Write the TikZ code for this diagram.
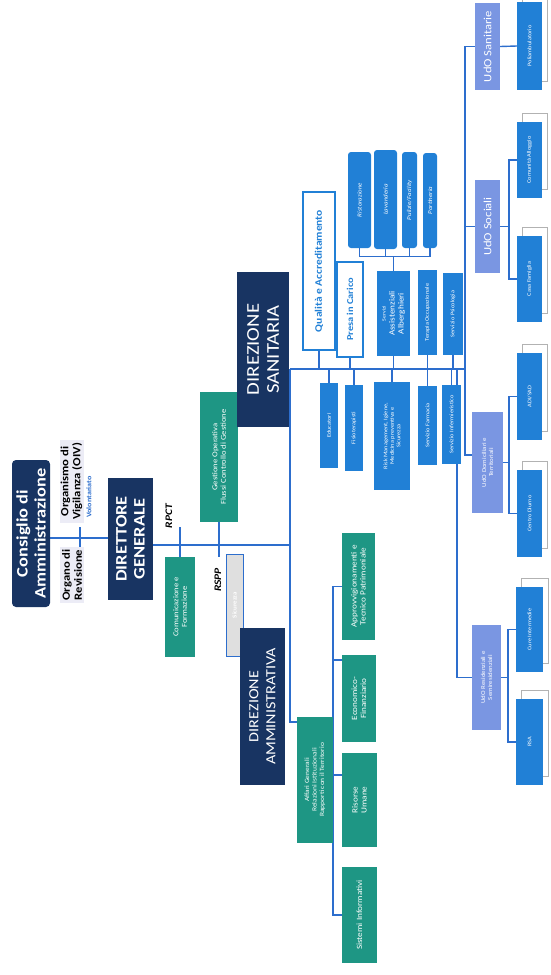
\documentclass[tikz,border=0pt]{standalone}
\usepackage{fontspec}
\setmainfont[FakeStretch=1.15]{Carlito}
\usetikzlibrary{backgrounds}
\definecolor{dirblue}{RGB}{24,52,98}
\definecolor{teal1}{RGB}{30,150,132}
\definecolor{azure}{RGB}{33,128,214}
\definecolor{lav}{RGB}{122,150,226}
\definecolor{wirec}{RGB}{45,110,205}
\definecolor{pale}{RGB}{236,236,246}
\begin{document}
\begin{tikzpicture}[x=1pt,y=1pt]
        \tikzstyle{dir}=[rotate=90,fill=dirblue,text=white,align=center,inner sep=1pt]
        \tikzstyle{staff}=[rotate=90,fill=teal1,text=white,align=center,inner sep=1pt,font=\fontsize{7.5}{8.5}\selectfont]
        \tikzstyle{unit}=[rotate=90,fill=azure,text=white,align=center,inner sep=1pt,font=\fontsize{5.5}{6.5}\selectfont]
        \tikzstyle{udo}=[rotate=90,fill=lav,text=white,align=center,inner sep=1pt]
        \tikzstyle{ringbox}=[rotate=90,draw=azure,line width=2.5pt,fill=white,text=azure,align=center,inner sep=1pt]
        \tikzstyle{organ}=[rotate=90,fill=pale,align=center,inner sep=1pt,font=\bfseries\fontsize{11}{12}\selectfont]
        \tikzstyle{lbl}=[rotate=90,font=\bfseries\itshape\fontsize{10}{11}\selectfont]
        \tikzstyle{wire}=[draw=wirec,line width=1.4pt]
        \tikzstyle{ghost}=[draw=gray!60,fill=white,line width=0.6pt]

        \useasboundingbox (0,0) rectangle (550,-975);

        % vertice
        \node [dir,rounded corners=4pt,minimum width=147pt,minimum height=38pt,font=\bfseries\fontsize{16}{18}\selectfont] (cda) at (31,-533.5) {Consiglio di\\Amministrazione};
        \node [organ,minimum width=83pt,minimum height=24pt] (oiv) at (71.5,-481.5) {Organismo di\\Vigilanza (OIV)};
        \node [organ,minimum width=56pt,minimum height=24pt] (rev) at (72,-575) {Organo di\\Revisione};
        \node [rotate=90,text=wirec,font=\bfseries\fontsize{7}{8}\selectfont] (vol) at (89,-497) {Volontariato};
        \node [dir,minimum width=122pt,minimum height=45pt,font=\bfseries\fontsize{16}{18}\selectfont] (dg) at (130.5,-539) {DIRETTORE\\GENERALE};

        % staff
        \node [staff,minimum width=100pt,minimum height=30pt] (comm) at (180,-607) {Comunicazione e\\Formazione};
        \node [staff,minimum width=130pt,minimum height=38pt] (gest) at (219,-457) {Gestione Operativa\\Flussi Controllo di Gestione};
        \node [rotate=90,fill=gray!25,draw=wirec,line width=0.8pt,text=white,minimum width=102pt,minimum height=17pt,font=\bfseries\fontsize{6}{7}\selectfont] (sic) at (234.5,-605) {Sicurezza};
        \node [lbl] (rpct) at (169,-516) {RPCT};
        \node [lbl] (rspp) at (218,-580) {RSPP};

        % direzioni
        \node [dir,minimum width=155pt,minimum height=52pt,font=\fontsize{18}{20}\selectfont] (ds) at (263,-349.5) {DIREZIONE\\SANITARIA};
        \node [dir,minimum width=157pt,minimum height=45pt,font=\fontsize{14}{17}\selectfont] (da) at (262.5,-706.5) {DIREZIONE\\AMMINISTRATIVA};

        % area sanitaria
        \node [ringbox,minimum width=158pt,minimum height=32pt,font=\bfseries\fontsize{10}{11}\selectfont] (qual) at (319,-271) {Qualità e Accreditamento};
        \node [ringbox,minimum width=95pt,minimum height=26pt,font=\bfseries\fontsize{9}{10}\selectfont] (presa) at (350,-309.5) {Presa in Carico};
        \node [unit,minimum width=85pt,minimum height=33pt,font=\fontsize{8}{9}\selectfont] (saa) at (393.5,-313.5) {{\tiny Servizi}\\Assistenziali\\Alberghieri};
        \node [unit,minimum width=85pt,minimum height=19pt] (terap) at (427.5,-312.5) {Terapia Occupazionale};
        \node [unit,minimum width=82pt,minimum height=20pt] (psico) at (453,-314) {Servizio Psicologia};
        \node [unit,rounded corners=3pt,minimum width=96pt,minimum height=23pt,font=\itshape\fontsize{6}{7}\selectfont] (rist) at (359.5,-200) {Ristorazione};
        \node [unit,rounded corners=3pt,minimum width=99pt,minimum height=23pt,font=\itshape\fontsize{6}{7}\selectfont] (lav) at (385.5,-199.5) {Lavanderia};
        \node [unit,rounded corners=3pt,minimum width=96pt,minimum height=15pt,font=\itshape\fontsize{6}{7}\selectfont] (pul) at (409.5,-200) {Pulizie/Facility};
        \node [unit,rounded corners=3pt,minimum width=95pt,minimum height=14pt,font=\itshape\fontsize{6}{7}\selectfont] (port) at (430,-200.5) {Portineria};
        \node [unit,minimum width=85pt,minimum height=18pt] (edu) at (329,-425.5) {Educatori};
        \node [unit,minimum width=86pt,minimum height=18pt] (fisio) at (354,-428) {Fisioterapisti};
        \node [unit,minimum width=108pt,minimum height=36pt] (risk) at (392,-436) {Risk Management, Igiene,\\Medicina preventiva e\\Sicurezza};
        \node [unit,minimum width=79pt,minimum height=19pt] (farm) at (427.5,-425.5) {Servizio Farmacia};
        \node [unit,minimum width=79pt,minimum height=19pt] (inf) at (451.5,-424.5) {Servizio Infermieristico};

        % unita' di offerta
        \node [udo,minimum width=87pt,minimum height=25pt,font=\fontsize{11}{12}\selectfont] (udosan) at (487.5,-46.5) {UdO Sanitarie};
        \node [udo,minimum width=93pt,minimum height=25pt,font=\fontsize{11}{12}\selectfont] (udosoc) at (487.5,-226.5) {UdO Sociali};
        \node [udo,minimum width=101pt,minimum height=31pt,font=\fontsize{6}{7}\selectfont] (udodom) at (487.5,-462.5) {UdO Domiciliari e\\Territoriali};
        \node [udo,minimum width=105pt,minimum height=29pt,font=\fontsize{6}{7}\selectfont] (udores) at (486.5,-677.5) {UdO Residenziali e\\Semiresidenziali};
        \node [unit,minimum width=88pt,minimum height=25pt] (san1) at (529.5,-46) {Poliambulatorio};
        \node [unit,minimum width=76pt,minimum height=25pt] (soc1) at (529.5,-160) {Comunità Alloggio};
        \node [unit,minimum width=86pt,minimum height=25pt] (soc2) at (529.5,-279) {Casa Famiglia};
        \node [unit,minimum width=87pt,minimum height=25pt] (dom1) at (529.5,-396.5) {ADI/SAD};
        \node [unit,minimum width=87pt,minimum height=25pt] (dom2) at (529.5,-513.5) {Centro Diurno};
        \node [unit,minimum width=85pt,minimum height=27pt] (res1) at (529.5,-629.5) {Cure Intermedie};
        \node [unit,minimum width=86pt,minimum height=27pt] (res2) at (529.5,-742) {RSA};

        % area amministrativa
        \node [staff,minimum width=126pt,minimum height=36pt,font=\fontsize{6.5}{7.5}\selectfont] (affari) at (315,-780) {Affari Generali\\Relazioni Istituzionali\\Rapporti con il Territorio};
        \node [staff,minimum width=107pt,minimum height=33pt,font=\fontsize{8}{9}\selectfont] (approv) at (358.5,-586.5) {Approvvigionamenti e\\Tecnico Patrimoniale};
        \node [staff,minimum width=87pt,minimum height=34pt,font=\fontsize{8}{9}\selectfont] (econ) at (359,-698.5) {Economico-\\Finanziario};
        \node [staff,minimum width=94pt,minimum height=35pt,font=\fontsize{8}{9}\selectfont] (ris) at (359.5,-800) {Risorse\\Umane};
        \node [staff,minimum width=96pt,minimum height=35pt,font=\fontsize{8}{9}\selectfont] (sist) at (359.5,-915) {Sistemi Informativi};

        \coordinate (c0) at (80,-538);
        \coordinate (sp) at (290,-545);
        \coordinate (sanl) at (290,-369);
        \coordinate (sanr) at (465,-369);
        \coordinate (resj) at (457,-369);
        \coordinate (adm) at (333,-586.5);

        \begin{pgfonlayer}{background}
            \draw[wire] (cda.south |- c0) -- (dg.north |- c0);
            \draw[wire] (c0) ++(0,11) -- ++(0,-22);
            \draw[wire,line width=2.4pt] (dg.south |- sp) -- (sp);
            \draw[wire] (comm.east) -- ++(0,30);
            \draw[wire] (gest.west) -- ++(0,-35);
            \draw[wire] (sanl) -- (290,-722) -- (affari.north |- 0,-722);
            \draw[wire] (sanl) -- (sanr);
            \foreach \n in {qual,presa,saa,terap,psico}
                \draw[wire] (\n.west) -- (\n.west |- sanl);
            \foreach \n in {edu,fisio,risk,farm,inf}
                \draw[wire] (\n.east) -- (\n.east |- sanl);
            \draw[wire] (rist.west) -- ++(0,-8) coordinate (ba) -| (port.west);
            \draw[wire] (lav.west) -- (lav.west |- ba);
            \draw[wire] (pul.west) -- (pul.west |- ba);
            \draw[wire] (saa.east) -- (saa.east |- ba);
            % unita' di offerta
            \draw[wire] (udosan.north) -| (465,-455) -- (udodom.north |- 0,-455);
            \draw[wire] (udosoc.north) -- (udosoc.north -| sanr);
            \draw[wire] (resj) |- (udores.north);
            \draw[wire] (udosan.south) -- (san1.north);
            \draw[wire] (udosoc.south) -- (509,-226.5) coordinate (bsoc);
            \draw[wire] (soc1.north) -| (bsoc) |- (soc2.north);
            \draw[wire] (udodom.south) -- (509,-462.5) coordinate (bdom);
            \draw[wire] (dom1.north) -| (bdom) |- (dom2.north);
            \draw[wire] (udores.south) -- (508,-677.5) coordinate (bres);
            \draw[wire] (res1.north) -| (bres) |- (res2.north);
            \foreach \n in {san1,soc1,soc2,dom1,dom2,res1,res2}
                \draw[ghost] ([shift={(5,9)}]\n.south west) rectangle ([shift={(5,9)}]\n.north east);
            % amministrazione
            \draw[wire] (approv.north) -- (adm) -- (adm |- sist.north) -- (sist.north);
            \draw[wire] (econ.north |- 0,-660) -- (adm |- 0,-660);
            \draw[wire] (ris.north |- 0,-775) -- (adm |- 0,-775);
        \end{pgfonlayer}
\end{tikzpicture}
\end{document}
